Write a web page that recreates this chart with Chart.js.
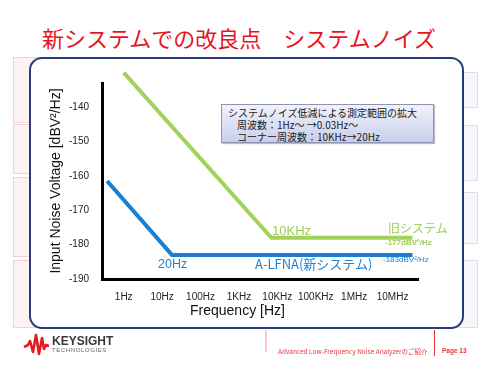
<!DOCTYPE html>
<html><head><meta charset="utf-8">
<script src="https://cdn.jsdelivr.net/npm/chart.js@4"></script>
<style>
html,body{margin:0;padding:0;background:#fff;}
#wrap{position:relative;width:500px;height:374px;overflow:hidden;font-family:"Liberation Sans",Arial,sans-serif;}
.abs{position:absolute;white-space:nowrap;line-height:1;}
.cjk{font-family:"Noto Sans CJK JP","Liberation Sans",sans-serif;}
.pink{position:absolute;left:13px;width:40px;background:#fdf2f2;border:1px solid #f6d0d0;box-sizing:border-box;}
.lav{position:absolute;left:440px;width:38px;background:#f6f6fb;border:1px solid #dcdcee;box-sizing:border-box;}
#panel{position:absolute;left:29px;top:57px;width:435px;height:272px;box-sizing:border-box;border:2px solid #2b3b7a;border-radius:13px;background:#fff;}
#note{position:absolute;left:221px;top:104px;width:213px;height:39px;box-sizing:border-box;border:1px solid #8e94b4;background:linear-gradient(#f1f2fb,#c9cfea);box-shadow:1px 1px 1px #b8bcd0;}
.nt{position:absolute;font-size:10px;color:#1a1a1a;white-space:nowrap;line-height:1;}
.g{color:#9ccf55;}
.b{color:#1f80d3;}
</style></head>
<body><div id="wrap">
<div class="pink" style="top:57px;height:66px"></div>
<div class="pink" style="top:124px;height:50px"></div>
<div class="pink" style="top:177px;height:80px"></div>
<div class="pink" style="top:260px;height:68px"></div>
<div class="lav" style="top:72px;height:36px"></div>
<div class="lav" style="top:125px;height:56px"></div>
<div class="lav" style="top:192px;height:52px"></div>
<div class="lav" style="top:260px;height:68px"></div>
<div id="panel"></div>

<div class="abs cjk" style="left:42px;top:37px;transform:translateY(-50%);font-size:22px;color:#e8141c;">新システムでの改良点　システムノイズ</div>

<div id="note"></div>
<div class="nt cjk" style="left:228px;top:108px;">システムノイズ低減による測定範囲の拡大</div>
<div class="nt cjk" style="left:237px;top:120px;">周波数：1Hz～ →0.03Hz～</div>
<div class="nt cjk" style="left:237px;top:132px;">コーナー周波数：10KHz→20Hz</div>

<canvas id="c" width="500" height="374" style="position:absolute;left:0;top:0;width:500px;height:374px;"></canvas>

<div class="abs g" style="left:272px;top:230px;transform:translateY(-50%);font-size:13px;">10KHz</div>
<div class="abs g cjk" style="left:388px;top:228px;transform:translateY(-50%);font-size:12px;">旧システム</div>
<div class="abs g" style="left:385px;top:243px;transform:translateY(-50%);font-size:8px;font-weight:bold;">-177dBV²/Hz</div>
<div class="abs b" style="left:158px;top:264px;transform:translateY(-50%);font-size:12.5px;">20Hz</div>
<div class="abs b cjk" style="left:255px;top:263px;transform:translateY(-50%);font-size:13px;">A-LFNA(新システム)</div>
<div class="abs b" style="left:383px;top:260px;transform:translateY(-50%);font-size:8px;">-183dBV²/Hz</div>
<div class="abs" style="left:190px;top:310px;transform:translateY(-50%);font-size:14px;color:#111;">Frequency [Hz]</div>

<svg style="position:absolute;left:0;top:0" width="500" height="374">
<polyline points="24,347 28,345 30,341 33,352 36,335 39,354 42,338 44,349 46,345 49,346" fill="none" stroke="#e21a22" stroke-width="2.6" stroke-linejoin="round"/>
<line x1="266" y1="330" x2="266" y2="352" stroke="#f19aa0" stroke-width="1"/>
<line x1="434.5" y1="330" x2="434.5" y2="356" stroke="#e8333b" stroke-width="1"/>
</svg>
<div class="abs" style="left:52px;top:341px;transform:translateY(-50%);font-size:12px;font-weight:bold;color:#3a3a3a;">KEYSIGHT</div>
<div class="abs" style="left:52px;top:350px;transform:translateY(-50%);font-size:6px;color:#666;letter-spacing:0.6px;">TECHNOLOGIES</div>
<div class="abs cjk" style="left:278px;top:351px;transform:translateY(-50%);font-size:6.5px;color:#e8333b;">Advanced Low-Frequency Noise Analyzerのご紹介</div>
<div class="abs" style="left:442px;top:351px;transform:translateY(-50%);font-size:6.5px;font-weight:bold;color:#e8333b;">Page 13</div>
</div>
<script>
const xTickValues = [1, 10, 100, 1e3, 1e4, 1e5, 1e6, 1e7];
const xTickLabels = ['1Hz', '10Hz', '100Hz', '1KHz', '10KHz', '100KHz', '1MHz', '10MHz'];
const yTickValues = [-190, -180, -170, -160, -150, -140];
const oldFreq = [1, 7000, 3.3e7];
const oldNoise = [-130, -178, -178];
const newFreq = [0.37, 18, 3.3e7];
const newNoise = [-161.5, -183, -183];

const toPts = (fs, vs) => fs.map((f, i) => ({x: f, y: vs[i]}));
const tickFont = {family: 'Liberation Sans', size: 10};

new Chart(document.getElementById('c'), {
  type: 'line',
  data: {
    datasets: [
      {label: '旧システム', data: toPts(oldFreq, oldNoise), borderColor: '#a3d25c', borderWidth: 4,
       pointRadius: 0, tension: 0, clip: false, borderJoinStyle: 'miter', fill: false},
      {label: 'A-LFNA(新システム)', data: toPts(newFreq, newNoise), borderColor: '#1a7fd3', borderWidth: 4,
       pointRadius: 0, tension: 0, clip: false, borderJoinStyle: 'miter', fill: false}
    ]
  },
  options: {
    responsive: false, animation: false, events: [],
    layout: {padding: {left: 0, top: 83, right: 82, bottom: 0}},
    plugins: {legend: {display: false}, tooltip: {enabled: false}},
    scales: {
      x: {
        type: 'logarithmic', min: 0.272, max: 4.6e7,
        grid: {display: false},
        border: {display: true, color: '#000', width: 3},
        afterBuildTicks: s => { s.ticks = xTickValues.map(v => ({value: v})); },
        afterFit: s => { s.height = 95; },
        ticks: {autoSkip: false, maxRotation: 0, minRotation: 0, padding: 4, color: '#222', font: tickFont,
                callback: (v, i) => xTickLabels[i]}
      },
      y: {
        min: -190, max: -133,
        grid: {display: false},
        border: {display: true, color: '#000', width: 3},
        afterBuildTicks: s => { s.ticks = yTickValues.map(v => ({value: v})); },
        afterFit: s => { s.width = 102; },
        ticks: {padding: 5, color: '#222', font: tickFont},
        title: {display: true, text: 'Input Noise Voltage [dBV²/Hz]', color: '#111',
                font: {family: 'Liberation Sans', size: 14}, padding: {top: 48, bottom: 0}}
      }
    }
  }
});
</script>
</body></html>
